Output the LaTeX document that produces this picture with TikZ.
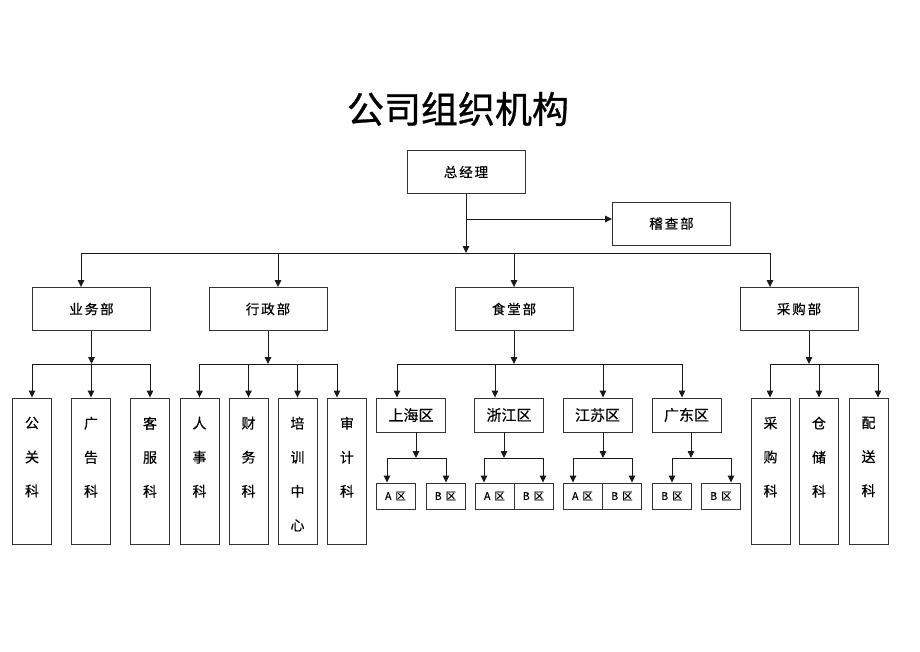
\documentclass[tikz,border=0pt]{standalone}
\usepackage{fontspec}
\setmainfont{Noto Sans CJK SC}
\usetikzlibrary{arrows.meta,calc}
\begin{document}
\begin{tikzpicture}[x=1pt,y=-1pt,
  ln/.style={draw=black!90, line width=0.9pt},
  arr/.style={ln, -{Triangle[length=7pt,width=6.5pt]}},
  bx/.style={draw=black!80, line width=0.9pt, fill=white, inner sep=0pt},
  dept/.style={bx, minimum width=118pt, minimum height=43pt, font=\fontsize{13.5}{13.5}\selectfont\addfontfeature{LetterSpace=14,FakeBold=0.3}},
  leaf/.style={bx, minimum width=39pt, minimum height=146pt},
  vtext/.style={anchor=north, inner sep=0pt, align=center, font=\fontsize{14}{34}\selectfont\addfontfeature{FakeBold=0.3}},
  mid/.style={bx, minimum width=69pt, minimum height=34pt, font=\fontsize{15}{15}\selectfont\addfontfeature{FakeBold=0.3}},
  sub/.style={bx, minimum width=39pt, minimum height=26pt, font=\fontsize{10.5}{10.5}\selectfont\addfontfeature{FakeBold=0.3}}
]
\path[use as bounding box, fill=white] (0,0) rectangle (920,651);

\node[font=\fontsize{37}{37}\selectfont\addfontfeature{FakeBold=0.8}, inner sep=0pt] (title) at (458,109) {公司组织机构};

% level 0/1
\node[dept] (gm) at (466,172) {总经理};
\node[dept] (jc) at (671.5,223.5) {稽查部};
\node[dept] (yw) at (91.5,309) {业务部};
\node[dept] (xz) at (268,309) {行政部};
\node[dept] (st) at (514,309) {食堂部};
\node[dept] (cg) at (799,309) {采购部};

% leaves
\node[leaf] (gg) at (32,471) {};
\node[leaf] (gkg) at (91,471) {};
\node[leaf] (kf) at (150,471) {};
\node[leaf] (rs) at (199.5,471) {};
\node[leaf] (cw) at (248.5,471) {};
\node[leaf] (px) at (297.5,471) {};
\node[leaf] (sj) at (347,471) {};
\node[leaf] (cgk) at (770.5,471) {};
\node[leaf] (cc) at (819,471) {};
\node[leaf] (ps) at (868.5,471) {};
\foreach \n/\t in {gg/{公\\关\\科}, gkg/{广\\告\\科}, kf/{客\\服\\科}, rs/{人\\事\\科}, cw/{财\\务\\科}, px/{培\\训\\中\\心}, sj/{审\\计\\科}, cgk/{采\\购\\科}, cc/{仓\\储\\科}, ps/{配\\送\\科}}
  \node[vtext] (\n-t) at ($(\n.north)+(0,19)$) {\t};

% regions
\node[mid] (sh) at (411,415) {上海区};
\node[mid] (zj) at (509,415) {浙江区};
\node[mid] (js) at (597.5,415) {江苏区};
\node[mid] (gd) at (686.5,415) {广东区};

\node[sub] (sha) at (395.5,496) {A\hspace{4pt}区};
\node[sub] (shb) at (445.5,496) {B\hspace{4pt}区};
\node[sub] (zja) at (494.5,496) {A\hspace{4pt}区};
\node[sub] (zjb) at (533.5,496) {B\hspace{4pt}区};
\node[sub] (jsa) at (582.5,496) {A\hspace{4pt}区};
\node[sub] (jsb) at (622,496) {B\hspace{4pt}区};
\node[sub] (gda) at (672,496) {B\hspace{4pt}区};
\node[sub] (gdb) at (721,496) {B\hspace{4pt}区};

% top connectors
\coordinate (b0) at (81,253);
\coordinate (b1) at (278,253);
\coordinate (b2) at (514,253);
\coordinate (b3) at (770,253);
\coordinate (jh) at (466,219);
\draw[arr] (gm.south) -- (gm.south |- b0);
\draw[arr] (jh) -- (jc.west |- jh);
\draw[ln] (b0) -- (b3);
\foreach \c/\n in {b0/yw, b1/xz, b2/st, b3/cg}
  \draw[arr] (\c) -- (\n.north -| \c);

% 业务部
\coordinate (y0) at (32,364);
\coordinate (y1) at (151,364);
\draw[arr] (yw.south) -- (yw.south |- y0);
\draw[ln] (y0) -- (y1);
\foreach \n in {gg,gkg,kf} \draw[arr] (\n.north |- y0) -- (\n.north);

% 行政部
\coordinate (x0) at (199,364);
\coordinate (x3) at (337,364);
\draw[arr] (xz.south) -- (xz.south |- x0);
\draw[ln] (x0) -- (x3);
\foreach \n in {rs,cw,px} \draw[arr] (\n.north |- x0) -- (\n.north);
\draw[arr] (x3) -- (sj.north -| x3);

% 食堂部
\coordinate (s0) at (397,364);
\coordinate (s1) at (495,364);
\coordinate (s2) at (603,364);
\coordinate (s3) at (682,364);
\draw[arr] (st.south) -- (st.south |- s0);
\draw[ln] (s0) -- (s3);
\foreach \c/\n in {s0/sh, s1/zj, s2/js, s3/gd}
  \draw[arr] (\c) -- (\n.north -| \c);

% 采购部
\coordinate (cv) at (809,364);
\coordinate (c0) at (770,364);
\coordinate (c2) at (878,364);
\draw[arr] (cg.south -| cv) -- (cv);
\draw[ln] (c0) -- (c2);
\draw[arr] (c0) -- (cgk.north -| c0);
\draw[arr] (cc.north |- c0) -- (cc.north);
\draw[arr] (c2) -- (ps.north -| c2);

% regions to sub areas
\foreach \r/\vx/\xa/\xb/\a/\b in {sh/416/387/446/sha/shb, zj/504/484/543/zja/zjb, js/603/573/632/jsa/jsb, gd/691/672/731/gda/gdb}{
  \coordinate (\r-v) at (\vx,458);
  \coordinate (\r-l) at (\xa,458);
  \coordinate (\r-r) at (\xb,458);
  \draw[arr] (\r.south -| \r-v) -- (\r-v);
  \draw[ln] (\r-l) -- (\r-r);
  \draw[arr] (\r-l) -- (\a.north -| \r-l);
  \draw[arr] (\r-r) -- (\b.north -| \r-r);
}
\end{tikzpicture}
\end{document}
